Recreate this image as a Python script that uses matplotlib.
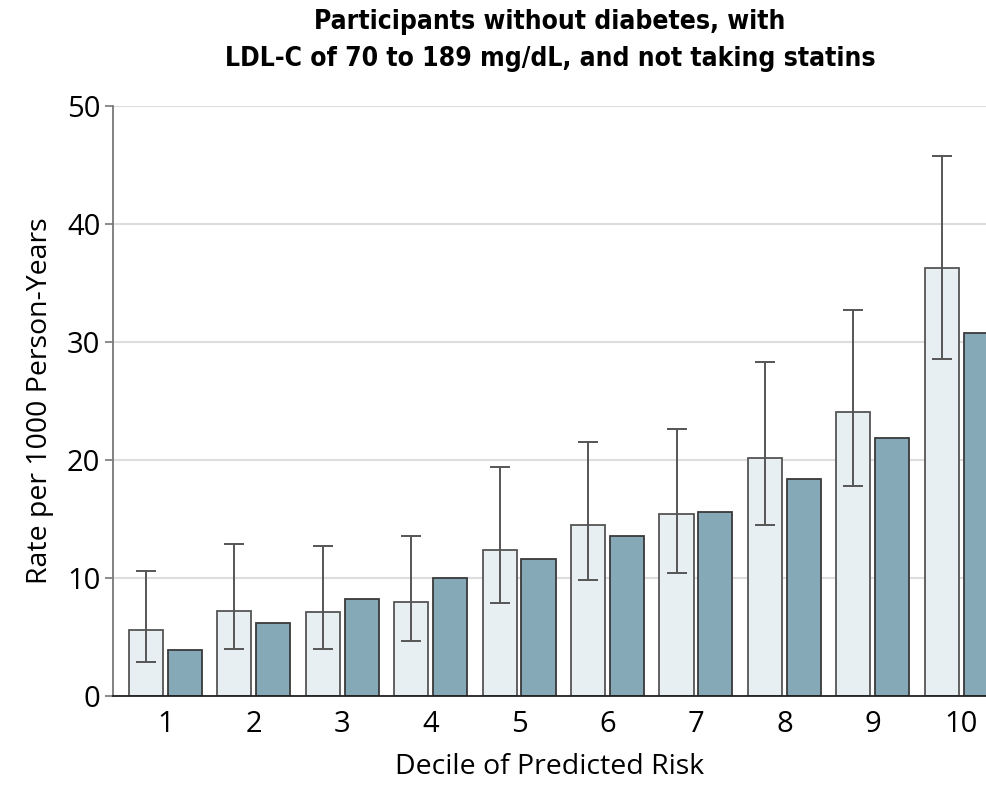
import matplotlib
matplotlib.use('Agg')
import matplotlib.pyplot as plt
import numpy as np

# observed (light) and predicted (dark) event rates per decile
deciles = [1, 2, 3, 4, 5, 6, 7, 8, 9, 10]
observed = [5.6, 7.2, 7.1, 8.0, 12.4, 14.5, 15.4, 20.2, 24.1, 36.3]
obs_low = [2.9, 4.0, 4.0, 4.7, 7.9, 9.8, 10.4, 14.5, 17.8, 28.6]
obs_high = [10.6, 12.9, 12.7, 13.6, 19.4, 21.5, 22.6, 28.3, 32.7, 45.8]
predicted = [3.9, 6.2, 8.2, 10.0, 11.6, 13.6, 15.6, 18.4, 21.9, 30.8]

title = 'Participants without diabetes, with\nLDL-C of 70 to 189 mg/dL, and not taking statins'

plt.rcParams['font.family'] = ['Open Sans', 'DejaVu Sans']

fig = plt.figure(figsize=(9.87, 7.9), dpi=100)
ax = fig.add_axes([113/987, 94/790, 874/987, 590/790])

x = np.array(deciles, dtype=float)
obs = np.array(observed)
lo = obs - np.array(obs_low)
hi = np.array(obs_high) - obs
w = 0.385
off = 0.22

ax.bar(x - off, obs, w, color='#e8eff2', edgecolor='#555555', linewidth=1.3, zorder=2)
ax.bar(x + off, predicted, w, color='#86a9b8', edgecolor='#3a3a3a', linewidth=1.3, zorder=2)
ax.errorbar(x - off, obs, yerr=[lo, hi], fmt='none', ecolor='#555555',
            elinewidth=1.4, capsize=7, capthick=1.4, zorder=3)

ax.set_xlim(0.41, 10.29)
ax.set_ylim(0, 50)
ax.set_yticks([0, 10, 20, 30, 40, 50])
ax.set_xticks(deciles)
ax.yaxis.grid(True, color='#dddddd', linewidth=1.5, zorder=0)
ax.set_axisbelow(True)

for s in ['top', 'right']:
    ax.spines[s].set_visible(False)
ax.spines['left'].set_color('#777777')
ax.spines['left'].set_linewidth(1.3)
ax.spines['bottom'].set_color('#222222')
ax.spines['bottom'].set_linewidth(1.3)

ax.tick_params(axis='y', length=6, width=1.2, color='#777777', labelsize=21, pad=3)
ax.tick_params(axis='x', length=0, labelsize=21, pad=10)

ax.set_ylabel('Rate per 1000 Person-Years', fontsize=20.5, labelpad=9)
ax.set_xlabel('Decile of Predicted Risk', fontsize=20.5, labelpad=10)
ax.set_title(title, fontsize=19, fontweight='bold', fontstretch='condensed', pad=29,
             family=['DejaVu Sans'], linespacing=1.55)

fig.savefig('out.png', dpi=100)
